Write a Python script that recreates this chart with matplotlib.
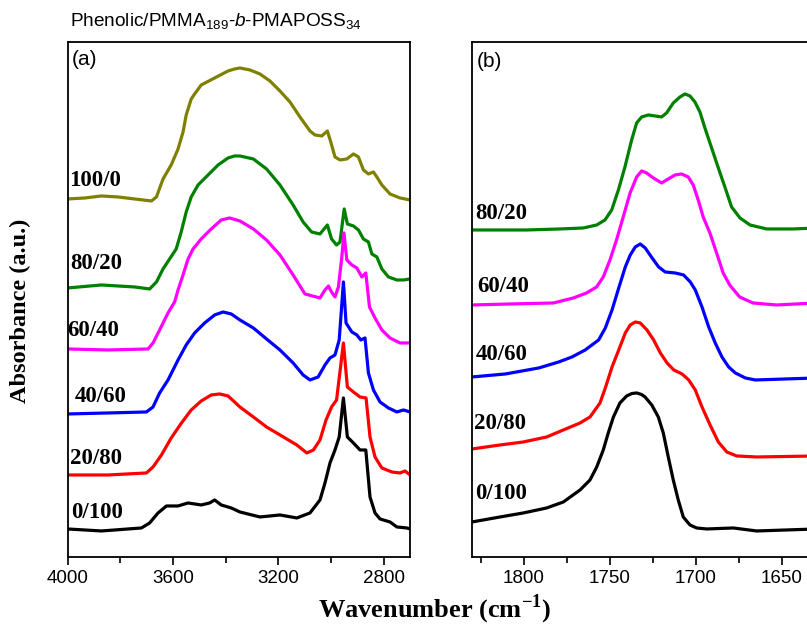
import matplotlib
matplotlib.use('Agg')
import matplotlib.pyplot as plt
from matplotlib.ticker import MultipleLocator

plt.rcParams['mathtext.fontset'] = 'custom'
plt.rcParams['mathtext.rm'] = 'Liberation Sans'
plt.rcParams['mathtext.it'] = 'Liberation Sans:italic'
plt.rcParams['mathtext.bf'] = 'Liberation Serif:bold'

# ---- panel (a): 4000-2700 cm-1 ----
wn_a_100_0 = [4000, 3935, 3872, 3809, 3746, 3682, 3663, 3638, 3607, 3581, 3562, 3550, 3531, 3518,
              3493, 3442, 3391, 3366, 3346, 3308, 3270, 3232, 3194, 3156, 3118, 3080, 3061, 3035,
              3014, 3001, 2985, 2966, 2940, 2915, 2896, 2877, 2858, 2839, 2826, 2807, 2776, 2738, 2700]
ab_a_100_0 = [3.58, 3.59, 3.61, 3.60, 3.58, 3.56, 3.60, 3.78, 3.92, 4.08, 4.25, 4.42, 4.58, 4.63,
              4.72, 4.79, 4.86, 4.88, 4.89, 4.87, 4.83, 4.76, 4.66, 4.55, 4.40, 4.26, 4.22, 4.21,
              4.26, 4.15, 4.00, 3.97, 3.98, 4.03, 4.00, 3.87, 3.83, 3.85, 3.80, 3.72, 3.63, 3.59, 3.57]

wn_a_80_20 = [4000, 3872, 3746, 3689, 3663, 3638, 3613, 3588, 3569, 3550, 3531, 3505, 3467, 3429,
              3391, 3366, 3346, 3295, 3245, 3194, 3144, 3106, 3074, 3042, 3014, 2998, 2979, 2966,
              2950, 2938, 2915, 2896, 2877, 2858, 2845, 2826, 2807, 2782, 2750, 2725, 2700]
ab_a_80_20 = [2.69, 2.72, 2.70, 2.68, 2.75, 2.88, 2.98, 3.08, 3.25, 3.45, 3.60, 3.72, 3.82, 3.92,
              3.99, 4.01, 4.01, 3.98, 3.88, 3.72, 3.52, 3.35, 3.25, 3.23, 3.32, 3.18, 3.12, 3.15,
              3.48, 3.33, 3.31, 3.27, 3.18, 3.15, 3.03, 3.00, 2.88, 2.80, 2.77, 2.77, 2.78]

wn_a_60_40 = [4000, 3847, 3695, 3676, 3651, 3619, 3594, 3581, 3562, 3543, 3524, 3493, 3455, 3417,
              3385, 3346, 3295, 3245, 3194, 3144, 3099, 3042, 3023, 3010, 2998, 2985, 2972, 2959,
              2951, 2940, 2921, 2902, 2883, 2868, 2854, 2833, 2807, 2776, 2738, 2700]
ab_a_60_40 = [2.08, 2.07, 2.08, 2.14, 2.27, 2.44, 2.55, 2.67, 2.82, 2.98, 3.08, 3.18, 3.28, 3.37,
              3.39, 3.36, 3.28, 3.17, 3.02, 2.82, 2.63, 2.59, 2.67, 2.71, 2.65, 2.60, 2.70, 3.00,
              3.24, 2.97, 2.92, 2.89, 2.80, 2.84, 2.50, 2.39, 2.27, 2.19, 2.14, 2.14]

wn_a_40_60 = [4000, 3847, 3701, 3676, 3651, 3619, 3581, 3550, 3518, 3480, 3442, 3410, 3379, 3346,
              3295, 3245, 3194, 3144, 3106, 3080, 3049, 3023, 3004, 2985, 2969, 2953, 2943, 2921,
              2902, 2887, 2871, 2858, 2839, 2814, 2782, 2750, 2725, 2700]
ab_a_40_60 = [1.43, 1.44, 1.45, 1.50, 1.64, 1.77, 1.97, 2.12, 2.24, 2.34, 2.42, 2.45, 2.43, 2.37,
              2.29, 2.18, 2.07, 1.94, 1.82, 1.77, 1.80, 1.92, 1.99, 2.02, 2.17, 2.75, 2.34, 2.25,
              2.22, 2.17, 2.19, 1.84, 1.67, 1.55, 1.49, 1.45, 1.47, 1.45]

wn_a_20_80 = [4000, 3847, 3701, 3676, 3644, 3607, 3568, 3531, 3493, 3455, 3423, 3391, 3346, 3295,
              3245, 3181, 3130, 3092, 3067, 3042, 3019, 2998, 2979, 2953, 2938, 2915, 2890, 2867,
              2852, 2833, 2807, 2769, 2738, 2719, 2700]
ab_a_20_80 = [0.82, 0.82, 0.84, 0.90, 1.02, 1.19, 1.34, 1.47, 1.56, 1.62, 1.63, 1.61, 1.50, 1.40,
              1.30, 1.20, 1.12, 1.04, 1.07, 1.17, 1.37, 1.50, 1.57, 2.14, 1.70, 1.65, 1.60, 1.59,
              1.20, 1.00, 0.89, 0.85, 0.84, 0.86, 0.82]

wn_a_0_100 = [4000, 3872, 3720, 3689, 3657, 3625, 3581, 3543, 3493, 3461, 3442, 3417, 3379, 3346,
              3270, 3194, 3130, 3080, 3042, 3023, 3004, 2985, 2969, 2953, 2938, 2915, 2890, 2868,
              2852, 2833, 2814, 2776, 2750, 2712, 2700]
ab_a_0_100 = [0.28, 0.26, 0.29, 0.34, 0.44, 0.51, 0.51, 0.54, 0.52, 0.54, 0.57, 0.52, 0.49, 0.45,
              0.40, 0.42, 0.39, 0.44, 0.57, 0.74, 0.94, 1.07, 1.20, 1.59, 1.20, 1.14, 1.07, 1.07,
              0.60, 0.44, 0.38, 0.35, 0.30, 0.29, 0.28]

# ---- panel (b): 1830-1630 cm-1 ----
wn_b_80_20 = [1830, 1798.2, 1778.8, 1765.3, 1757.5, 1752.7, 1748.8, 1744.9, 1741.1, 1737.2,
              1734.3, 1731.4, 1727.5, 1723.6, 1719.8, 1716.9, 1713, 1709.1, 1706.2, 1703.3,
              1700.4, 1697.5, 1694.6, 1690.7, 1686.8, 1683, 1679.1, 1674.2, 1668.4, 1658.7,
              1643.2, 1630]
ab_b_80_20 = [3.27, 3.27, 3.28, 3.29, 3.32, 3.37, 3.47, 3.67, 3.90, 4.17,
              4.34, 4.40, 4.42, 4.41, 4.40, 4.44, 4.54, 4.60, 4.63, 4.61,
              4.55, 4.45, 4.29, 4.09, 3.89, 3.70, 3.50, 3.39, 3.32, 3.28,
              3.28, 3.29]

wn_b_60_40 = [1830, 1807.9, 1782.7, 1771.1, 1763.4, 1757.6, 1753.7, 1749.8, 1746, 1742.1,
              1738.1, 1734.3, 1731.4, 1728.5, 1724.6, 1719.8, 1715.9, 1712, 1708.1, 1704.3,
              1701.4, 1698.5, 1695.6, 1691.7, 1687.8, 1684, 1680.2, 1674.4, 1666.7, 1652.9, 1630]
ab_b_60_40 = [2.52, 2.53, 2.54, 2.59, 2.64, 2.70, 2.80, 2.97, 3.17, 3.40,
              3.64, 3.80, 3.86, 3.84, 3.79, 3.74, 3.78, 3.82, 3.83, 3.80,
              3.72, 3.57, 3.40, 3.24, 3.04, 2.84, 2.72, 2.60, 2.54, 2.52, 2.54]

wn_b_40_60 = [1830, 1810.6, 1791.2, 1779.6, 1771.9, 1764.2, 1756.4, 1752.5, 1748.6, 1744.7,
              1740.9, 1738, 1735.1, 1732.2, 1729.3, 1725.3, 1721.5, 1717.7, 1711.9, 1707,
              1703.1, 1700.2, 1696.3, 1692.4, 1688.6, 1684.7, 1680.8, 1676.9, 1671.1, 1665.3, 1630]
ab_b_40_60 = [1.80, 1.83, 1.89, 1.95, 2.00, 2.07, 2.17, 2.29, 2.47, 2.69,
              2.90, 3.02, 3.10, 3.13, 3.09, 2.99, 2.90, 2.85, 2.84, 2.82,
              2.75, 2.67, 2.50, 2.30, 2.14, 2.00, 1.90, 1.84, 1.79, 1.77, 1.79]

wn_b_20_80 = [1830, 1813.7, 1800.2, 1786.6, 1776.9, 1767.2, 1761.4, 1755.6, 1752.5, 1748.6,
              1744.7, 1740.9, 1738, 1735.1, 1732.2, 1728.3, 1724.4, 1720.5, 1716.6, 1712.7,
              1707.9, 1704, 1700.2, 1696.3, 1691.6, 1686.8, 1681.9, 1676.1, 1664.5, 1630]
ab_b_20_80 = [1.08, 1.12, 1.15, 1.20, 1.27, 1.34, 1.40, 1.54, 1.69, 1.90,
              2.07, 2.24, 2.32, 2.35, 2.34, 2.27, 2.17, 2.04, 1.94, 1.87,
              1.83, 1.77, 1.67, 1.50, 1.32, 1.15, 1.05, 1.01, 1.00, 1.01]

wn_b_0_100 = [1830, 1813.7, 1800.2, 1786.6, 1776.9, 1767.2, 1761.4, 1757.5, 1753.7, 1750.8,
              1747.8, 1744, 1740.1, 1737, 1734.2, 1731.5, 1729.4, 1725.5, 1721.7, 1718.8, 1715.9,
              1713, 1710.1, 1707.2, 1703.3, 1699.4, 1693.5, 1678.1, 1664.5, 1630]
ab_b_0_100 = [0.35, 0.40, 0.44, 0.49, 0.55, 0.67, 0.77, 0.90, 1.07, 1.24,
              1.40, 1.54, 1.61, 1.635, 1.64, 1.625, 1.60, 1.52, 1.40, 1.24, 1.00,
              0.77, 0.57, 0.40, 0.32, 0.29, 0.28, 0.29, 0.26, 0.28]

labels_a = ['100/0', '80/20', '60/40', '40/60', '20/80', '0/100']
labels_b = ['80/20', '60/40', '40/60', '20/80', '0/100']
colors_a = ['#808000', '#008000', '#ff00ff', '#0000ff', '#ff0000', '#000000']
colors_b = colors_a[1:]

# where the composition labels sit (wavenumber, absorbance)
lab_pos_a = [(3994, 3.76), (3990, 2.93), (4003, 2.26), (3975, 1.60), (3990, 0.98), (3986, 0.44)]
lab_pos_b = [(1828, 3.43), (1827, 2.70), (1828, 2.02), (1829, 1.33), (1828, 0.63)]

curves_a = [(wn_a_100_0, ab_a_100_0), (wn_a_80_20, ab_a_80_20), (wn_a_60_40, ab_a_60_40),
            (wn_a_40_60, ab_a_40_60), (wn_a_20_80, ab_a_20_80), (wn_a_0_100, ab_a_0_100)]
curves_b = [(wn_b_80_20, ab_b_80_20), (wn_b_60_40, ab_b_60_40), (wn_b_40_60, ab_b_40_60),
            (wn_b_20_80, ab_b_20_80), (wn_b_0_100, ab_b_0_100)]

fig = plt.figure(figsize=(8.07, 6.34), dpi=100)
ax1 = fig.add_axes([0.0839, 0.1215, 0.4242, 0.8123])
ax2 = fig.add_axes([0.5849, 0.1215, 0.4263, 0.8123])

serif_bold = dict(family='Liberation Serif', weight='bold', size=16.5)

for (x, y), c in zip(curves_a, colors_a):
    ax1.plot(x, y, color=c, lw=2.3, solid_joinstyle='round')
for (x, y), c in zip(curves_b, colors_b):
    ax2.plot(x, y, color=c, lw=2.3, solid_joinstyle='round')

for t, (x, y) in zip(labels_a, lab_pos_a):
    ax1.text(x, y, t, ha='left', va='center', **serif_bold)
for t, (x, y) in zip(labels_b, lab_pos_b):
    ax2.text(x, y, t, ha='left', va='center', **serif_bold)

ax1.set_xlim(4000, 2700)
ax2.set_xlim(1830, 1630)
ax1.xaxis.set_major_locator(MultipleLocator(400))
ax1.xaxis.set_minor_locator(MultipleLocator(200))
ax2.xaxis.set_major_locator(MultipleLocator(50))
ax2.xaxis.set_minor_locator(MultipleLocator(25))
for ax in (ax1, ax2):
    ax.set_ylim(0, 5.15)
    ax.set_yticks([])
    for s in ax.spines.values():
        s.set_linewidth(1.3)
    ax.tick_params(axis='x', which='major', direction='out', length=5.5, width=1.2,
                   labelsize=13.5, pad=4)
    ax.tick_params(axis='x', which='minor', direction='out', length=4, width=1.2)
    for lb in ax.get_xticklabels():
        lb.set_family('Liberation Sans')

ax1.text(0.012, 0.965, '(a)', transform=ax1.transAxes, ha='left', va='center',
         family='Liberation Sans', size=15)
ax2.text(0.015, 0.963, '(b)', transform=ax2.transAxes, ha='left', va='center',
         family='Liberation Sans', size=15)

fig.text(0.087, 0.967, r'Phenolic/PMMA$_{189}$-$\mathit{b}$-PMAPOSS$_{34}$',
         ha='left', va='center', family='Liberation Sans', size=13.7)
fig.text(0.539, 0.038, r'Wavenumber (cm$^{\mathbf{-1}}$)', ha='center', va='center',
         family='Liberation Serif', weight='bold', size=19)
fig.text(0.025, 0.51, 'Absorbance (a.u.)', ha='center', va='center', rotation=90,
         family='Liberation Serif', weight='bold', size=17.5)

fig.savefig('out.png', dpi=100)
